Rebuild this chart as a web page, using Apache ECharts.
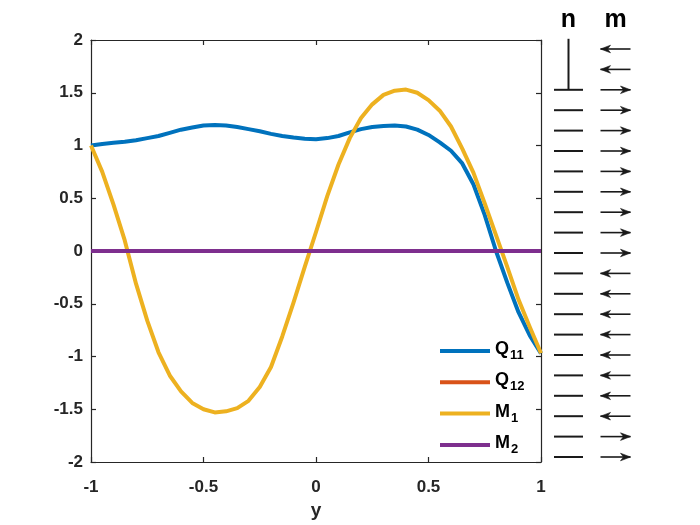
<!DOCTYPE html>
<html><head><meta charset="utf-8">
<script src="https://cdn.jsdelivr.net/npm/echarts@6/dist/echarts.min.js"></script>
<style>html,body{margin:0;padding:0;background:#fff}#c{width:700px;height:525px}</style>
</head><body><div id="c"></div>
<script>
// ---- data ----
const yVals = [-1,-0.95,-0.9,-0.85,-0.8,-0.75,-0.7,-0.65,-0.6,-0.55,-0.5,-0.45,-0.4,-0.35,-0.3,-0.25,-0.2,-0.15,-0.1,-0.05,0,0.05,0.1,0.15,0.2,0.25,0.3,0.35,0.4,0.45,0.5,0.55,0.6,0.65,0.7,0.75,0.8,0.85,0.9,0.95,1];
const Q11 = [1.00,1.015,1.025,1.035,1.05,1.07,1.09,1.12,1.15,1.17,1.19,1.195,1.19,1.175,1.155,1.135,1.11,1.09,1.075,1.065,1.06,1.07,1.09,1.125,1.155,1.175,1.185,1.19,1.18,1.15,1.10,1.03,0.95,0.83,0.63,0.34,0.0,-0.30,-0.58,-0.80,-0.97];
const Q12 = [0,0,0,0,0,0,0,0,0,0,0,0,0,0,0,0,0,0,0,0,0,0,0,0,0,0,0,0,0,0,0,0,0,0,0,0,0,0,0,0,0];
const M1 = [1.00,0.75,0.44,0.10,-0.31,-0.66,-0.96,-1.18,-1.33,-1.44,-1.50,-1.53,-1.52,-1.49,-1.42,-1.29,-1.10,-0.81,-0.49,-0.15,0.18,0.52,0.82,1.07,1.26,1.39,1.48,1.52,1.53,1.50,1.43,1.33,1.18,0.97,0.74,0.45,0.15,-0.15,-0.46,-0.72,-0.97];
const M2 = [0,0,0,0,0,0,0,0,0,0,0,0,0,0,0,0,0,0,0,0,0,0,0,0,0,0,0,0,0,0,0,0,0,0,0,0,0,0,0,0,0];
const seriesNames = ['Q11','Q12','M1','M2'];
const xTicks = [-1,-0.5,0,0.5,1];
const yTicks = [-2,-1.5,-1,-0.5,0,0.5,1,1.5,2];
// right panel: rows 1..21
const panelCols = ['n','m'];
const rows = [1,2,3,4,5,6,7,8,9,10,11,12,13,14,15,16,17,18,19,20,21];
const nShow = [0,0,1,1,1,1,1,1,1,1,1,1,1,1,1,1,1,1,1,1,1];
const nStemRow = [3];
const mDir = [-1,-1,1,1,1,1,1,1,1,1,1,-1,-1,-1,-1,-1,-1,-1,-1,1,1];

// ---- chart ----
const colors = ['#0072BD','#D95319','#EDB120','#7E2F8E'];
const txt = '#262626';
const FF = 'Liberation Sans, Arial, sans-serif';
const chart = echarts.init(document.getElementById('c'));
const mk = (arr)=> yVals.map((x,i)=>[x, arr[i]]);
const subName = {Q11:'{b|Q}{s|11}', Q12:'{b|Q}{s|12}', M1:'{b|M}{s|1}', M2:'{b|M}{s|2}'};

const nData = rows.filter((r,i)=>nShow[i]).map(r=>[0, r, nStemRow.indexOf(r) >= 0 ? 1 : 0]);
const mData = rows.map((r,i)=>[1, r, mDir[i]]);

const axisCommon = {
  axisLine:{show:true, onZero:false, lineStyle:{color:txt, width:1.2}},
  axisTick:{show:true, inside:true, length:5, lineStyle:{color:txt, width:1.2}},
  splitLine:{show:false}
};

chart.setOption({
  animation:false,
  backgroundColor:'#fff',
  color: colors,
  grid:[
    {left:91, top:40, width:450, height:426, containLabel:false},
    {left:545, top:38.8, width:94, height:428.4}
  ],
  xAxis:[
    Object.assign({}, axisCommon, {type:'value', gridIndex:0, min:-1, max:1, interval:0.5, position:'bottom',
      name:'y', nameLocation:'middle', nameGap:39,
      nameTextStyle:{fontFamily:FF, fontSize:19, fontWeight:'bold', color:txt},
      axisLabel:{fontFamily:FF, fontSize:17, fontWeight:'bold', color:txt, margin:17}}),
    Object.assign({}, axisCommon, {type:'value', gridIndex:0, min:-1, max:1, interval:0.5, position:'top',
      axisLabel:{show:false}}),
    {type:'category', gridIndex:1, data:panelCols, position:'top', boundaryGap:true,
      axisLine:{show:false}, axisTick:{show:false}, splitLine:{show:false},
      axisLabel:{fontFamily:FF, fontSize:25, fontWeight:'bold', color:'#000', margin:6}}
  ],
  yAxis:[
    Object.assign({}, axisCommon, {type:'value', gridIndex:0, min:-2, max:2, interval:0.5, position:'left',
      axisLabel:{fontFamily:FF, fontSize:17, fontWeight:'bold', color:txt, margin:8}}),
    Object.assign({}, axisCommon, {type:'value', gridIndex:0, min:-2, max:2, interval:0.5, position:'right',
      axisLabel:{show:false}}),
    {type:'value', gridIndex:1, min:0.5, max:21.5, inverse:true, show:false}
  ],
  legend:{
    orient:'vertical', left:435, top:335, itemWidth:50, itemHeight:4, itemGap:9.3, icon:'rect',
    data: seriesNames,
    formatter: n => subName[n],
    textStyle:{fontFamily:FF, color:'#000', lineHeight:22,
      rich:{
        b:{fontFamily:FF, fontSize:18, fontWeight:'bold', color:'#000', verticalAlign:'top', lineHeight:22},
        s:{fontFamily:FF, fontSize:13, fontWeight:'bold', color:'#000', verticalAlign:'bottom', lineHeight:14, padding:[8,0,0,1]}
      }}
  },
  series:[
    ...seriesNames.map((nm,i)=>({
      name:nm, type:'line', xAxisIndex:0, yAxisIndex:0,
      data: mk([Q11,Q12,M1,M2][i]), showSymbol:false, symbol:'none',
      lineStyle:{width:4, color:colors[i], join:'round'}, itemStyle:{color:colors[i]}, z:2+i
    })),
    {
      type:'custom', xAxisIndex:2, yAxisIndex:2, data:nData, encode:{x:0,y:1}, silent:true,
      renderItem:(params, api)=>{
        const c = api.coord([api.value(0), api.value(1)]);
        const children = [{type:'line', shape:{x1:c[0]-14.5, y1:c[1], x2:c[0]+14.5, y2:c[1]},
          style:{stroke:'#1a1a1a', lineWidth:2}}];
        if (api.value(2)) {
          const top = api.coord([api.value(0), 0.5]);
          children.push({type:'line', shape:{x1:c[0], y1:c[1], x2:c[0], y2:top[1]},
            style:{stroke:'#1a1a1a', lineWidth:2}});
        }
        return {type:'group', children};
      }
    },
    {
      type:'custom', xAxisIndex:2, yAxisIndex:2, data:mData, encode:{x:0,y:1}, silent:true,
      renderItem:(params, api)=>{
        const c = api.coord([api.value(0), api.value(1)]);
        const d = api.value(2);
        const x1 = c[0]-15, x2 = c[0]+15, y = c[1];
        const tip = d>0 ? x2 : x1;
        const base = d>0 ? x2-10 : x1+10;
        const notch = d>0 ? base+3 : base-3;
        return {type:'group', children:[
          {type:'line', shape:{x1, y1:y, x2, y2:y}, style:{stroke:'#1a1a1a', lineWidth:1.6}},
          {type:'polygon', shape:{points:[[tip,y],[base,y-3.8],[notch,y],[base,y+3.8]]},
            style:{fill:'#1a1a1a', stroke:'#1a1a1a', lineWidth:0.6}}
        ]};
      }
    }
  ]
});
</script></body></html>
